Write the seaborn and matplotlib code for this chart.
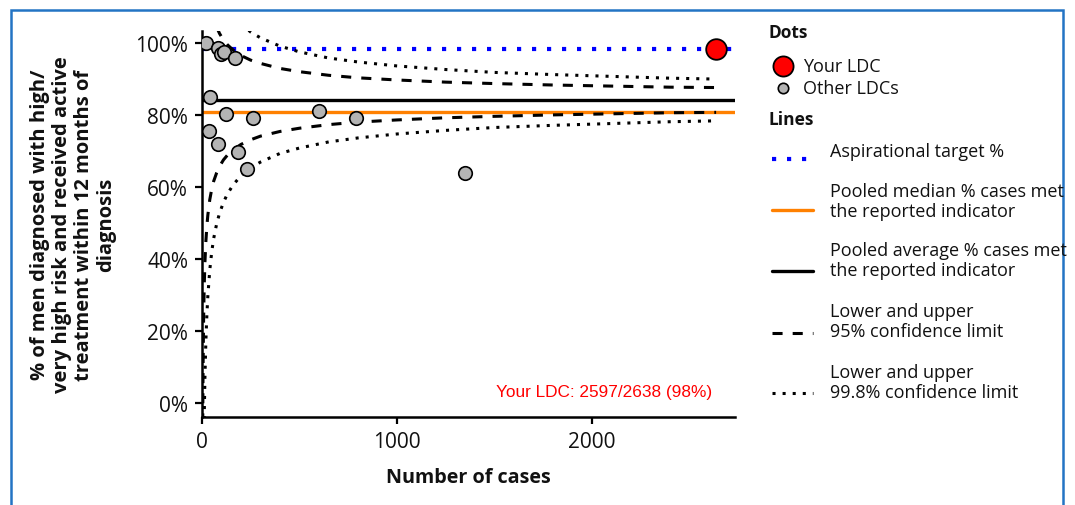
import matplotlib
matplotlib.use("Agg")
import matplotlib.pyplot as plt
from matplotlib.lines import Line2D
from matplotlib.patches import Rectangle
from matplotlib.ticker import FuncFormatter
import seaborn as sns
import pandas as pd

# ---------------- data ----------------
other_cases = [20, 80, 97, 114, 171, 41, 123, 260, 602, 790, 34, 84, 183, 229, 1350]
other_pct = [100.2, 98.8, 97.1, 97.6, 96.0, 85.1, 80.3, 79.3, 81.1, 79.1, 75.7, 72.0, 69.7, 65.1, 64.0]

your_cases = [2638]
your_pct = [98.45]

target_pct = 98.5
median_pct = 80.9
average_pct = 84.25

l95_n = [3, 4, 5, 6, 8, 10, 12, 15, 20, 25, 30, 40, 50, 60, 75, 90, 110, 130, 160, 200,
         250, 300, 400, 500, 650, 800, 1000, 1250, 1500, 1800, 2100, 2400, 2638]
l95_pct = [-16.8, -3.3, 6.0, 12.8, 22.4, 28.9, 33.7, 39.1, 45.1, 49.2, 52.3, 56.6, 59.5, 61.7,
           64.0, 65.8, 67.6, 68.9, 70.4, 71.9, 73.2, 74.2, 75.5, 76.4, 77.4, 78.1, 78.7, 79.3,
           79.7, 80.1, 80.4, 80.7, 80.8]

u95_n = [75, 90, 110, 130, 160, 200, 250, 300, 400, 500, 650, 800, 1000, 1250, 1500, 1800,
         2100, 2400, 2638]
u95_pct = [104.5, 102.7, 100.9, 99.6, 98.1, 96.6, 95.3, 94.4, 93.0, 92.1, 91.1, 90.4, 89.8,
           89.2, 88.8, 88.4, 88.1, 87.8, 87.7]

l998_n = [10, 12, 15, 20, 25, 30, 40, 50, 60, 75, 90, 110, 130, 160, 200, 250, 300, 400, 500,
          650, 800, 1000, 1250, 1500, 1800, 2100, 2400, 2638]
l998_pct = [-10.0, -1.8, 7.3, 17.6, 24.6, 29.8, 37.1, 42.1, 45.8, 49.8, 52.8, 55.8, 58.1, 60.7,
            63.2, 65.4, 67.0, 69.4, 70.9, 72.6, 73.7, 74.8, 75.8, 76.6, 77.2, 77.7, 78.2, 78.45]

u998_n = [200, 250, 300, 400, 500, 650, 800, 1000, 1250, 1500, 1800, 2100, 2400, 2638]
u998_pct = [105.4, 103.1, 101.5, 99.2, 97.6, 95.9, 94.8, 93.7, 92.7, 91.9, 91.3, 90.8, 90.3, 90.05]

y_ticks = [0, 20, 40, 60, 80, 100]
x_ticks = [0, 1000, 2000]

# ---------------- styling ----------------
sns.set_theme(style="ticks")
plt.rcParams["font.family"] = ["Open Sans", "DejaVu Sans"]

W, H = 1075, 506
fig = plt.figure(figsize=(W / 100, H / 100), dpi=100)
fig.patch.set_facecolor("white")

def fx(px):
    return px / W

def fy(py):
    return 1 - py / H

ax = fig.add_axes([fx(202), fy(418), fx(735) - fx(202), fy(32) - fy(418)])
ax.set_facecolor("white")

DASH = (0, (3.3, 3.3))
DOT = (0, (1.0, 2.3))
BLUEDOT = (0, (1.0, 2.6))

# horizontal reference lines
ax.axhline(median_pct, color="#ff8000", lw=2.4, zorder=2)
ax.axhline(average_pct, color="black", lw=2.4, zorder=2)
ax.axhline(target_pct, color="#0000ff", lw=3.0, linestyle=BLUEDOT,
           dash_capstyle="butt", zorder=2)

# funnel limits
for n, v, ls in [(l95_n, l95_pct, DASH), (u95_n, u95_pct, DASH),
                 (l998_n, l998_pct, DOT), (u998_n, u998_pct, DOT)]:
    df = pd.DataFrame({"n": n, "pct": v})
    sns.lineplot(data=df, x="n", y="pct", ax=ax, color="black", lw=2.2,
                 linestyle=ls, sort=False, estimator=None, zorder=3)

# dots
sns.scatterplot(x=other_cases, y=other_pct, ax=ax, color="#b4b4b4", edgecolor="black",
                linewidth=1.2, s=95, zorder=5)
sns.scatterplot(x=your_cases, y=your_pct, ax=ax, color="#ff0000", edgecolor="black",
                linewidth=1.3, s=220, zorder=6)

ax.set_xlim(0, 2735)
ax.set_ylim(-3.8, 103.4)
ax.set_xticks(x_ticks)
ax.set_yticks(y_ticks)
ax.yaxis.set_major_formatter(FuncFormatter(lambda v, p: f"{v:.0f}%"))
ax.tick_params(axis="both", labelsize=15, length=5, width=1.6, color="black",
               labelcolor="#111111", pad=5)
sns.despine(ax=ax)
for s in ["left", "bottom"]:
    ax.spines[s].set_linewidth(1.8)
    ax.spines[s].set_color("black")
ax.grid(False)
ax.set_xlabel("")
ax.set_ylabel("")

ax.text(0.957, 0.065, "Your LDC: 2597/2638 (98%)", transform=ax.transAxes,
        ha="right", va="center", color="#ff0000", fontsize=12.4,
        family=["Liberation Sans", "DejaVu Sans"])

# axis titles
fig.text(fx(468), fy(478), "Number of cases", ha="center", va="center",
         fontsize=14.2, fontweight="bold", color="#111111")
fig.text(fx(73), fy(225),
         "% of men diagnosed with high/\nvery high risk and received active\n"
         "treatment within 12 months of\ndiagnosis",
         ha="center", va="center", rotation=90, fontsize=14.5, fontweight="bold",
         color="#111111", linespacing=1.12)

# ---------------- manual legend ----------------
fig.text(fx(768), fy(33), "Dots", ha="left", va="center", fontsize=12.5,
         fontweight="bold", color="#111111")
fig.add_artist(Line2D([fx(783)], [fy(67)], marker="o", markersize=14.5,
                      markerfacecolor="#ff0000", markeredgecolor="black",
                      markeredgewidth=1.3, transform=fig.transFigure, linestyle="none"))
fig.text(fx(803), fy(67), "Your LDC", ha="left", va="center", fontsize=13, color="#111111")
fig.add_artist(Line2D([fx(783)], [fy(89)], marker="o", markersize=7.5,
                      markerfacecolor="#b4b4b4", markeredgecolor="black",
                      markeredgewidth=1.2, transform=fig.transFigure, linestyle="none"))
fig.text(fx(803), fy(89), "Other LDCs", ha="left", va="center", fontsize=13, color="#111111")

fig.text(fx(768), fy(120), "Lines", ha="left", va="center", fontsize=12.5,
         fontweight="bold", color="#111111")

entries = [
    ("Aspirational target %", 152, 160, dict(color="#0000ff", lw=3.0, linestyle=BLUEDOT)),
    ("Pooled median % cases met\nthe reported indicator", 202, 211,
     dict(color="#ff8000", lw=2.4, linestyle="-")),
    ("Pooled average % cases met\nthe reported indicator", 261, 272,
     dict(color="black", lw=2.4, linestyle="-")),
    ("Lower and upper\n95% confidence limit", 322, 334,
     dict(color="black", lw=2.2, linestyle=DASH)),
    ("Lower and upper\n99.8% confidence limit", 383, 394,
     dict(color="black", lw=2.2, linestyle=DOT)),
]
for label, ty, ly, st in entries:
    fig.add_artist(Line2D([fx(772), fx(813)], [fy(ly), fy(ly)], transform=fig.transFigure,
                          dash_capstyle="butt", **st))
    fig.text(fx(830), fy(ty), label, ha="left", va="center", fontsize=13,
             color="#111111", linespacing=1.12)

# blue frame
fig.add_artist(Rectangle((fx(11), fy(530)), fx(1063) - fx(11), fy(11) - fy(530),
                         transform=fig.transFigure, fill=False, edgecolor="#2374c4",
                         linewidth=1.8, clip_on=False))

fig.savefig("out.png", dpi=100, facecolor="white")
